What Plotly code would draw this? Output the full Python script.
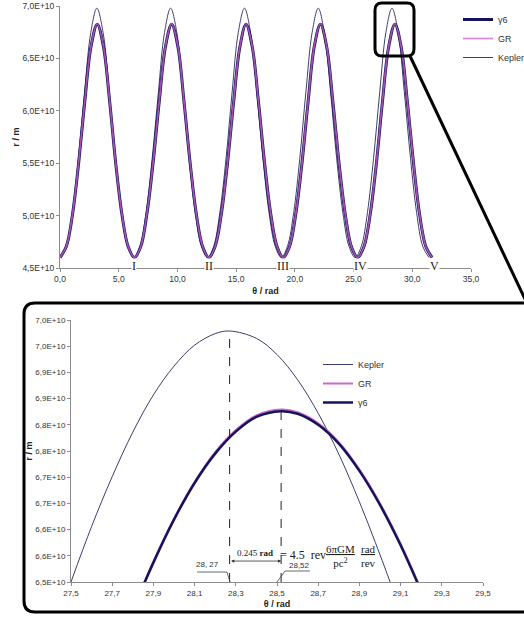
import plotly.graph_objects as go

W, H = 524, 617

# ---------------- data: full run (top panel), r in units of 1e10 m ----------------
theta_kepler = [
    0.00, 0.52, 1.05, 1.57, 2.09, 2.62, 3.14, 3.67, 4.19, 4.71, 5.24, 5.76,
    6.28, 6.81, 7.33, 7.85, 8.38, 8.90, 9.42, 9.95, 10.47, 11.00, 11.52, 12.04,
    12.57, 13.09, 13.61, 14.14, 14.66, 15.18, 15.71, 16.23, 16.76, 17.28, 17.80, 18.33,
    18.85, 19.37, 19.90, 20.42, 20.94, 21.47, 21.99, 22.51, 23.04, 23.56, 24.09, 24.61,
    25.13, 25.66, 26.18, 26.70, 27.23, 27.75, 28.27, 28.80, 29.32, 29.85, 30.37, 30.89,
    31.42]
r_kepler = [
    4.600, 4.707, 5.028, 5.545, 6.180, 6.746, 6.979, 6.746, 6.180, 5.545, 5.028, 4.707,
    4.600, 4.707, 5.028, 5.545, 6.180, 6.746, 6.979, 6.746, 6.180, 5.545, 5.028, 4.707,
    4.600, 4.707, 5.028, 5.545, 6.180, 6.746, 6.979, 6.746, 6.180, 5.545, 5.028, 4.707,
    4.600, 4.707, 5.028, 5.545, 6.180, 6.746, 6.979, 6.746, 6.180, 5.545, 5.028, 4.707,
    4.600, 4.707, 5.028, 5.545, 6.180, 6.746, 6.979, 6.746, 6.180, 5.545, 5.028, 4.707,
    4.600]
theta_gr = [
    0.00, 0.53, 1.06, 1.58, 2.11, 2.64, 3.17, 3.70, 4.23, 4.75, 5.28, 5.81,
    6.34, 6.87, 7.39, 7.92, 8.45, 8.98, 9.51, 10.04, 10.56, 11.09, 11.62, 12.15,
    12.68, 13.20, 13.73, 14.26, 14.79, 15.32, 15.84, 16.37, 16.90, 17.43, 17.96, 18.49,
    19.01, 19.54, 20.07, 20.60, 21.13, 21.65, 22.18, 22.71, 23.24, 23.77, 24.30, 24.82,
    25.35, 25.88, 26.41, 26.94, 27.46, 27.99, 28.52, 29.05, 29.58, 30.11, 30.63, 31.16,
    31.69]
r_gr = [
    4.600, 4.703, 5.009, 5.497, 6.091, 6.615, 6.829, 6.615, 6.091, 5.497, 5.009, 4.703,
    4.600, 4.703, 5.009, 5.497, 6.091, 6.615, 6.829, 6.615, 6.091, 5.497, 5.009, 4.703,
    4.600, 4.703, 5.009, 5.497, 6.091, 6.615, 6.829, 6.615, 6.091, 5.497, 5.009, 4.703,
    4.600, 4.703, 5.009, 5.497, 6.091, 6.615, 6.829, 6.615, 6.091, 5.497, 5.009, 4.703,
    4.600, 4.703, 5.009, 5.497, 6.091, 6.615, 6.829, 6.615, 6.091, 5.497, 5.009, 4.703,
    4.600]
r_g6 = [
    4.600, 4.702, 5.007, 5.494, 6.088, 6.611, 6.826, 6.611, 6.088, 5.494, 5.007, 4.702,
    4.600, 4.702, 5.007, 5.494, 6.088, 6.611, 6.826, 6.611, 6.088, 5.494, 5.007, 4.702,
    4.600, 4.702, 5.007, 5.494, 6.088, 6.611, 6.826, 6.611, 6.088, 5.494, 5.007, 4.702,
    4.600, 4.702, 5.007, 5.494, 6.088, 6.611, 6.826, 6.611, 6.088, 5.494, 5.007, 4.702,
    4.600, 4.702, 5.007, 5.494, 6.088, 6.611, 6.826, 6.611, 6.088, 5.494, 5.007, 4.702,
    4.600]

# ---------------- data: zoom on the 5th aphelion (bottom panel) ----------------
zoom_theta_kepler = [27.50, 27.60, 27.70, 27.80, 27.90, 28.00, 28.10, 28.20, 28.27,
                     28.40, 28.50, 28.60, 28.70, 28.80, 28.90, 29.00, 29.05]
zoom_r_kepler = [6.500, 6.606, 6.701, 6.786, 6.857, 6.912, 6.952, 6.974, 6.979,
                 6.965, 6.934, 6.886, 6.822, 6.744, 6.653, 6.552, 6.499]
zoom_theta_gr = [27.80, 27.90, 28.00, 28.10, 28.20, 28.30, 28.40, 28.52,
                 28.60, 28.70, 28.80, 28.90, 29.00, 29.10, 29.20]
zoom_r_gr = [6.448, 6.539, 6.621, 6.691, 6.748, 6.790, 6.818, 6.829,
             6.824, 6.803, 6.767, 6.715, 6.650, 6.573, 6.485]
zoom_r_g6 = [6.446, 6.537, 6.619, 6.689, 6.745, 6.787, 6.815, 6.826,
             6.821, 6.800, 6.764, 6.712, 6.647, 6.570, 6.482]

# peaks marked by the dashed lines
peak_theta = [28.27, 28.52]
peak_r = [6.979, 6.829]
peak_labels = ["28, 27", "28,52"]

# orbit markers on the top axis
orbit_theta = [6.3, 12.7, 19.0, 25.6, 31.9]
orbit_labels = ["I", "II", "III", "IV", "V"]

# ticks
top_xticks = [0, 5, 10, 15, 20, 25, 30, 35]
top_xlabels = ["0,0", "5,0", "10,0", "15,0", "20,0", "25,0", "30,0", "35,0"]
top_yticks = [4.5e10, 5.0e10, 5.5e10, 6.0e10, 6.5e10, 7.0e10]
top_ylabels = ["4,5E+10", "5,0E+10", "5,5E+10", "6,0E+10", "6,5E+10", "7,0E+10"]
bot_xticks = [27.5, 27.7, 27.9, 28.1, 28.3, 28.5, 28.7, 28.9, 29.1, 29.3, 29.5]
bot_xlabels = ["27,5", "27,7", "27,9", "28,1", "28,3", "28,5", "28,7", "28,9", "29,1", "29,3", "29,5"]
bot_yticks = [6.50e10, 6.55e10, 6.60e10, 6.65e10, 6.70e10, 6.75e10, 6.80e10, 6.85e10, 6.90e10, 6.95e10, 7.00e10]
bot_ylabels = ["6,5E+10", "6,6E+10", "6,6E+10", "6,7E+10", "6,7E+10", "6,8E+10", "6,8E+10",
               "6,9E+10", "6,9E+10", "7,0E+10", "7,0E+10"]

E10 = 1e10
SANS = "Liberation Sans, Arial, sans-serif"
SERIF = "Liberation Serif, Times New Roman, serif"
C_KEP = "#3c3c6e"
C_GR = "#cc66cc"
C_G6 = "#14145a"


def scale(vals):
    return [v * E10 for v in vals]


def px(x):
    return x / W


def py(y):
    return 1 - y / H


fig = go.Figure()

# ---- top panel ----
fig.add_trace(go.Scatter(x=theta_kepler, y=scale(r_kepler), name="Kepler", mode="lines",
                         line=dict(color=C_KEP, width=1, shape="spline"),
                         xaxis="x", yaxis="y", legend="legend", legendrank=3))
fig.add_trace(go.Scatter(x=theta_gr, y=scale(r_g6), name="γ6", mode="lines",
                         line=dict(color=C_G6, width=3, shape="spline"),
                         xaxis="x", yaxis="y", legend="legend", legendrank=1))
fig.add_trace(go.Scatter(x=theta_gr, y=scale(r_gr), name="GR", mode="lines",
                         line=dict(color="rgba(204,102,204,0.75)", width=1.8, shape="spline"),
                         xaxis="x", yaxis="y", legend="legend", legendrank=2))

# ---- bottom panel ----
fig.add_trace(go.Scatter(x=zoom_theta_kepler, y=scale(zoom_r_kepler), name="Kepler", mode="lines",
                         line=dict(color=C_KEP, width=1, shape="spline"),
                         xaxis="x2", yaxis="y2", legend="legend2", legendrank=1))
fig.add_trace(go.Scatter(x=zoom_theta_gr, y=scale(zoom_r_gr), name="GR", mode="lines",
                         line=dict(color=C_GR, width=2, shape="spline"),
                         xaxis="x2", yaxis="y2", legend="legend2", legendrank=2))
fig.add_trace(go.Scatter(x=zoom_theta_gr, y=scale(zoom_r_g6), name="γ6", mode="lines",
                         line=dict(color=C_G6, width=2.5, shape="spline"),
                         xaxis="x2", yaxis="y2", legend="legend2", legendrank=3))

axis_common = dict(showgrid=False, zeroline=False, showline=True, linecolor="#8c8c8c",
                   linewidth=1, ticks="outside", ticklen=3, tickcolor="#8c8c8c",
                   ticklabeloverflow="allow")
title_font = dict(family=SANS, size=9, color="#222")

fig.update_layout(
    width=W, height=H,
    margin=dict(l=0, r=0, t=0, b=0, autoexpand=False),
    paper_bgcolor="white", plot_bgcolor="white",
    xaxis=dict(domain=[px(60), px(471)], range=[0, 35], tickvals=top_xticks, ticktext=top_xlabels,
               tickfont=dict(family=SANS, size=8.5, color="#333"),
               anchor="y", title=dict(text="<b>θ / rad</b>", font=title_font, standoff=4), **axis_common),
    yaxis=dict(domain=[py(268), py(6)], range=[4.5e10, 7.0e10], tickvals=top_yticks, ticktext=top_ylabels,
               tickfont=dict(family=SANS, size=8.5, color="#333"),
               anchor="x", title=dict(text="<b>r / m</b>", font=title_font, standoff=1), **axis_common),
    xaxis2=dict(domain=[px(71), px(483)], range=[27.5, 29.5], tickvals=bot_xticks, ticktext=bot_xlabels,
                tickfont=dict(family=SANS, size=8, color="#333"),
                anchor="y2", title=dict(text="<b>θ / rad</b>", font=title_font, standoff=4), **axis_common),
    yaxis2=dict(domain=[py(582), py(320)], range=[6.5e10, 7.0e10], tickvals=bot_yticks, ticktext=bot_ylabels,
                tickfont=dict(family=SANS, size=8, color="#333"),
                anchor="x2", title=dict(text="<b>r / m</b>", font=title_font, standoff=1), **axis_common),
    legend=dict(x=px(458), y=py(5), xanchor="left", yanchor="top", bgcolor="rgba(0,0,0,0)",
                font=dict(family=SANS, size=9, color="#333"), tracegroupgap=0),
    legend2=dict(x=px(318), y=py(350), xanchor="left", yanchor="top", bgcolor="rgba(0,0,0,0)",
                 font=dict(family=SANS, size=9, color="#333"), tracegroupgap=0),
)

annotations = []
# roman numerals on top x axis
for t, lab in zip(orbit_theta, orbit_labels):
    annotations.append(dict(x=t, y=4.5e10, xref="x", yref="y", text=lab, showarrow=False,
                            font=dict(family=SERIF, size=12, color="#222"), bgcolor="white",
                            borderpad=0, yshift=2))

# bottom panel: peak labels
annotations.append(dict(x=28.165, y=6.533e10, xref="x2", yref="y2", text=peak_labels[0], showarrow=False,
                        font=dict(family=SANS, size=8, color="#333")))
annotations.append(dict(x=28.607, y=6.531e10, xref="x2", yref="y2", text=peak_labels[1], showarrow=False,
                        font=dict(family=SANS, size=8, color="#333")))
# double arrow between peaks
annotations.append(dict(x=peak_theta[1], y=6.540e10, ax=peak_theta[0], ay=6.540e10,
                        xref="x2", yref="y2", axref="x2", ayref="y2", text="", showarrow=True,
                        arrowhead=2, startarrowhead=2, arrowside="end+start", arrowsize=0.8,
                        arrowwidth=0.8, arrowcolor="#333"))
annotations.append(dict(x=28.393, y=6.556e10, xref="x2", yref="y2", text="0.245 <b>rad</b>", showarrow=False,
                        font=dict(family=SERIF, size=9, color="#222")))
annotations.append(dict(x=28.626, y=6.552e10, xref="x2", yref="y2", text="= 4.5  rev", showarrow=False,
                        font=dict(family=SERIF, size=12, color="#222")))
annotations.append(dict(x=28.806, y=6.550e10, xref="x2", yref="y2",
                        text="<u>6πGM</u><br>pc<sup>2</sup>", showarrow=False,
                        font=dict(family=SERIF, size=11, color="#222")))
annotations.append(dict(x=28.945, y=6.550e10, xref="x2", yref="y2",
                        text="<u>rad</u><br>rev", showarrow=False,
                        font=dict(family=SERIF, size=11, color="#222")))
fig.update_layout(annotations=annotations)

shapes = []
# dashed peak lines
for t, r in zip(peak_theta, peak_r):
    shapes.append(dict(type="line", xref="x2", yref="y2", x0=t, x1=t, y0=6.5e10, y1=r * E10,
                       line=dict(color="#222", width=1, dash="dash")))
# leader lines for peak labels
shapes.append(dict(type="line", xref="x2", yref="y2", x0=28.112, x1=28.257, y0=6.519e10, y1=6.519e10,
                   line=dict(color="#444", width=0.8)))
shapes.append(dict(type="line", xref="x2", yref="y2", x0=28.257, x1=28.272, y0=6.519e10, y1=6.500e10,
                   line=dict(color="#444", width=0.8)))
shapes.append(dict(type="line", xref="x2", yref="y2", x0=28.539, x1=28.660, y0=6.521e10, y1=6.521e10,
                   line=dict(color="#444", width=0.8)))
shapes.append(dict(type="line", xref="x2", yref="y2", x0=28.539, x1=28.500, y0=6.521e10, y1=6.500e10,
                   line=dict(color="#444", width=0.8)))


def rrect(x0, y0, x1, y1, r):
    rx, ry = r / W, r / H
    a, b, c, d = px(x0), py(y0), px(x1), py(y1)
    return (f"M{a+rx},{b} L{c-rx},{b} Q{c},{b} {c},{b-ry} L{c},{d+ry} Q{c},{d} {c-rx},{d} "
            f"L{a+rx},{d} Q{a},{d} {a},{d+ry} L{a},{b-ry} Q{a},{b} {a+rx},{b} Z")


# magnifier box around 5th peak, connector and zoom frame
shapes.append(dict(type="path", xref="paper", yref="paper", path=rrect(375, 3, 414, 56, 7),
                   line=dict(color="black", width=3)))
shapes.append(dict(type="line", xref="paper", yref="paper", x0=px(410), y0=py(56), x1=px(532), y1=py(314),
                   line=dict(color="black", width=3)))
shapes.append(dict(type="path", xref="paper", yref="paper", path=rrect(24, 303, 545, 612, 11),
                   line=dict(color="black", width=3)))
fig.update_layout(shapes=shapes)

# the page's default body margin would shift the figure; remove it
fig.write_html("out.html", config={"displayModeBar": False},
               post_script="document.body.style.margin='0';")
